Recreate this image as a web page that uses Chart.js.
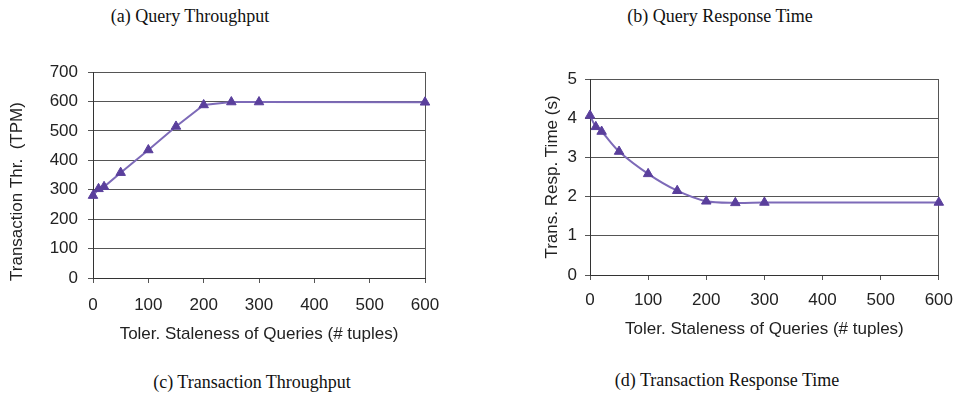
<!DOCTYPE html>
<html>
<head>
<meta charset="utf-8">
<script src="https://cdn.jsdelivr.net/npm/chart.js@4.4.0/dist/chart.umd.min.js"></script>
<style>
  body { margin: 0; background: #fff; width: 963px; height: 410px; position: relative; overflow: hidden; }
  .cap { position: absolute; font-family: "Liberation Serif", "Times New Roman", serif; font-size: 18px; color: #111; white-space: nowrap; transform: translate(-50%, -50%); }
  canvas { position: absolute; }
</style>
</head>
<body>
<div class="cap" style="left:190px; top:16px;">(a) Query Throughput</div>
<div class="cap" style="left:720px; top:16px;">(b) Query Response Time</div>
<div class="cap" style="left:252px; top:382px;">(c) Transaction Throughput</div>
<div class="cap" style="left:727px; top:380px;">(d) Transaction Response Time</div>

<canvas id="thrChart" width="470" height="310" style="left:0; top:40px;"></canvas>
<canvas id="respChart" width="483" height="310" style="left:480px; top:40px;"></canvas>

<script>
// tolerated staleness of queries (# tuples)
const staleness = [0, 10, 20, 50, 100, 150, 200, 250, 300, 600];
// transaction throughput (TPM)
const txThroughput = [280, 303, 310, 358, 435, 515, 588, 598, 598, 597];
// transaction response time (s)
const txRespTime = [4.07, 3.78, 3.66, 3.15, 2.58, 2.15, 1.88, 1.84, 1.85, 1.85];

const xTitle = "Toler. Staleness of Queries (# tuples)";
const thrTitle = "Transaction Thr.  (TPM)       ";
const respTitle = "Trans. Resp. Time (s)";

const font = { family: "Liberation Sans, Arial, sans-serif", size: 17 };
const lineColor = "#7d6ab8";
const markColor = "#5a3f9c";
const gridColor = "#555";

function makeChart(id, values, opts) {
  const ctx = document.getElementById(id).getContext("2d");
  return new Chart(ctx, {
    type: "line",
    data: {
      datasets: [{
        data: staleness.map((x, i) => ({ x: x, y: values[i] })),
        borderColor: lineColor,
        borderWidth: 2,
        tension: opts.tension,
        pointStyle: "triangle",
        pointRadius: 5.5,
        pointBackgroundColor: markColor,
        pointBorderColor: markColor,
        pointBorderWidth: 1,
        clip: false
      }]
    },
    options: {
      responsive: false,
      animation: false,
      layout: { padding: opts.padding },
      plugins: { legend: { display: false }, tooltip: { enabled: false } },
      scales: {
        x: {
          type: "linear",
          min: 0, max: 600,
          ticks: { stepSize: 100, color: "#222", font: font, padding: opts.xTickPad, maxRotation: 0 },
          grid: {
            color: c => (c.tick && c.tick.value === 600 ? gridColor : "transparent"),
            tickColor: gridColor,
            tickLength: 5
          },
          border: { display: true, color: "#333", width: 1 },
          title: { display: true, text: xTitle, color: "#222", font: font, padding: { top: 0, bottom: opts.xTitlePad } },
          afterFit: s => { s.height = opts.xHeight; }
        },
        y: {
          min: opts.yMin, max: opts.yMax,
          ticks: { stepSize: opts.yStep, color: "#222", font: font, padding: opts.yTickPad },
          grid: { color: gridColor, tickColor: gridColor, tickLength: 5 },
          border: { display: true, color: "#333", width: 1 },
          title: { display: true, text: opts.yTitle, color: "#222", font: font, padding: { top: opts.yTitlePad, bottom: 0 } },
          afterFit: s => { s.width = opts.yWidth; }
        }
      }
    }
  });
}

makeChart("thrChart", txThroughput, {
  tension: 0,
  padding: { top: 32, right: 45, left: 0, bottom: 0 },
  xHeight: 72, xTickPad: 12, xTitlePad: 5,
  yWidth: 93, yTickPad: 10, yTitlePad: 7,
  yMin: 0, yMax: 700, yStep: 100,
  yTitle: thrTitle
});

makeChart("respChart", txRespTime, {
  tension: 0.3,
  padding: { top: 39, right: 17, left: 0, bottom: 0 },
  xHeight: 75, xTickPad: 10, xTitlePad: 10,
  yWidth: 110, yTickPad: 8, yTitlePad: 62,
  yMin: 0, yMax: 5, yStep: 1,
  yTitle: respTitle
});
</script>
</body>
</html>
